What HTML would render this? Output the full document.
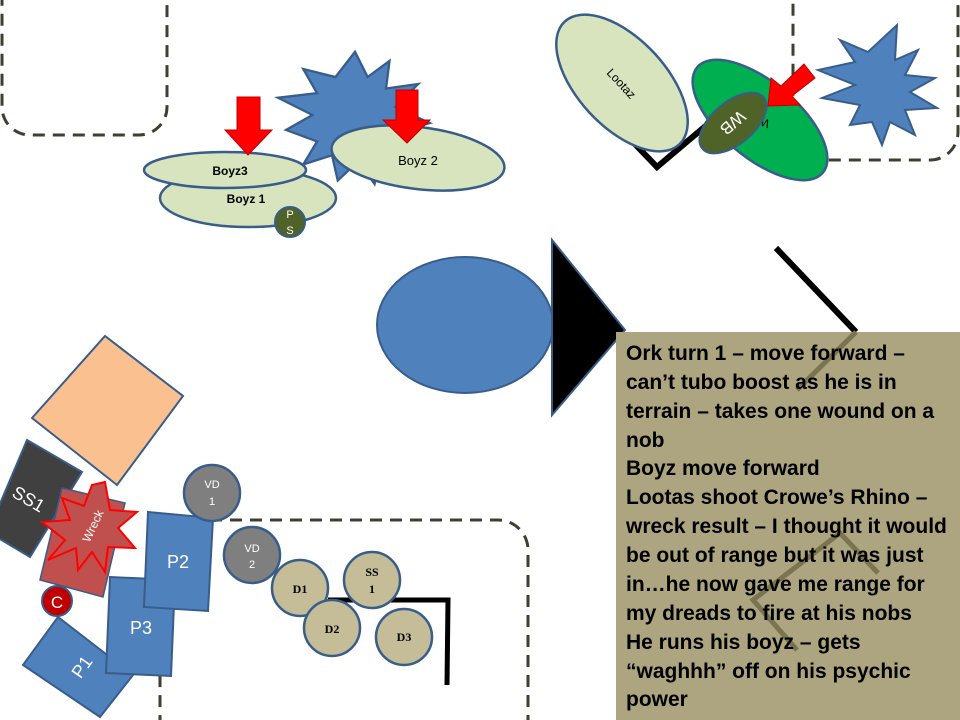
<!DOCTYPE html>
<html><head><meta charset="utf-8"><style>
html,body{margin:0;padding:0;background:#fff;}
svg{display:block;}
.t{font-family:"Liberation Sans",sans-serif;}
</style></head><body>
<svg width="960" height="720" viewBox="0 0 960 720" xmlns="http://www.w3.org/2000/svg">
<g fill="none" stroke="#3f3f2f" stroke-width="3" stroke-dasharray="12,8">
<rect x="2" y="-30" width="165" height="165" rx="28"/>
<rect x="793" y="-30" width="165" height="190" rx="28"/>
<rect x="160" y="520" width="368" height="230" rx="30"/>
</g>
<polygon fill="#4f81bd" stroke="#385d8a" stroke-width="2" transform="translate(355,115) scale(1.15) translate(-355,-115)" points="
355,60 366,82 385,68 382,92 410,88 390,108 420,122 390,130 405,152 378,150 372,175 358,155 340,172 335,150 310,158 322,138 295,128 318,115 288,100 322,96 310,75 338,82"/>
<polygon fill="#4f81bd" stroke="#385d8a" stroke-width="2" points="
897,25 895,60 918,50 905,75 935,78 910,92 937,108 905,110 915,135 890,122 882,145 872,122 850,125 860,105 822,98 855,85 818,70 855,62 840,40 868,52"/>
<ellipse cx="248" cy="198" rx="88" ry="29" fill="#d7e4bd" stroke="#385d8a" stroke-width="2.5"/>
<ellipse cx="225" cy="170" rx="81" ry="18" fill="#d7e4bd" stroke="#385d8a" stroke-width="2.5"/>
<circle cx="290" cy="222" r="15" fill="#4f6228" stroke="#385d8a" stroke-width="2"/>
<text x="290" y="218" class="t" font-size="11" fill="#fff" text-anchor="middle">P</text>
<text x="290" y="234" class="t" font-size="11" fill="#fff" text-anchor="middle">S</text>
<text x="230" y="175" class="t" font-size="12" font-weight="bold" text-anchor="middle">Boyz3</text>
<text x="246" y="203" class="t" font-size="12" font-weight="bold" text-anchor="middle">Boyz 1</text>
<ellipse cx="418" cy="158" rx="87" ry="31" transform="rotate(7 418 158)" fill="#d7e4bd" stroke="#385d8a" stroke-width="2.5"/>
<text x="418" y="165" class="t" font-size="13" text-anchor="middle">Boyz 2</text>
<polygon fill="#ff0000" stroke="#c00000" points="237,97 260,97 260,130 272,130 248,155 225,130 237,130"/>
<polygon fill="#ff0000" stroke="#c00000" points="396,90 418,90 418,120 430,120 407,143 383,120 396,120"/>
<polyline points="575,82 657,167 715,118" fill="none" stroke="#000" stroke-width="6"/>
<ellipse cx="622" cy="83" rx="84" ry="44" transform="rotate(47 622 83)" fill="#d7e4bd" stroke="#385d8a" stroke-width="2.5"/>
<text x="622" y="88" class="t" font-size="12" text-anchor="middle" transform="rotate(47 622 83)">Lootaz</text>
<ellipse cx="760" cy="120" rx="82" ry="38" transform="rotate(40 760 120)" fill="#00b050" stroke="#385d8a" stroke-width="2.5"/>
<text x="760" y="125" class="t" font-size="12" text-anchor="middle" transform="rotate(200 760 121)">WB</text>
<ellipse cx="733" cy="123" rx="40" ry="21" transform="rotate(-40 733 123)" fill="#4f6228" stroke="#385d8a" stroke-width="2"/>
<text x="733" y="129" class="t" font-size="17" fill="#fff" text-anchor="middle" transform="rotate(140 733 123)">WB</text>
<polygon fill="#ff0000" stroke="#c00000" points="804,64 815,78 792,96 800,105 768,106 771,78 781,86"/>
<ellipse cx="465" cy="325" rx="88" ry="68" fill="#4f81bd" stroke="#385d8a" stroke-width="2"/>
<polygon points="552,240 552,415 625,330" fill="#000" stroke="#385d8a" stroke-width="2"/>
<line x1="776" y1="248" x2="856" y2="332" stroke="#000" stroke-width="6"/>
<rect x="616" y="332" width="344" height="388" fill="#aca57f"/>
<g stroke="#7b7450" stroke-width="5" fill="none">
<line x1="856" y1="332" x2="797" y2="390"/>
<polyline points="878,573 840,533 753,600 797,650"/>
</g>
<g class="t" font-size="21" font-weight="bold" fill="#000">
<text x="626" y="360">Ork turn 1 – move forward –</text>
<text x="626" y="389">can’t tubo boost as he is in</text>
<text x="626" y="418">terrain – takes one wound on a</text>
<text x="626" y="447">nob</text>
<text x="626" y="475">Boyz move forward</text>
<text x="626" y="504">Lootas shoot Crowe’s Rhino –</text>
<text x="626" y="533">wreck result – I thought it would</text>
<text x="626" y="562">be out of range but it was just</text>
<text x="626" y="591">in…he now gave me range for</text>
<text x="626" y="620">my dreads to fire at his nobs</text>
<text x="626" y="649">He runs his boyz – gets</text>
<text x="626" y="678">“waghhh” off on his psychic</text>
<text x="626" y="706">power</text>
</g>
<polygon points="32,418 105,336 183,396 117,485" fill="#fac090" stroke="#385d8a" stroke-width="2"/>
<polygon points="27,440 82,472 30,557 -12,532" fill="#404040" stroke="#385d8a" stroke-width="2"/>
<text x="28" y="505" class="t" font-size="18" fill="#fff" text-anchor="middle" transform="rotate(30 28 500)">SS1</text>
<polygon points="62,488 125,503 103,597 40,580" fill="#c0504d" stroke="#385d8a" stroke-width="1.5"/>
<polygon fill="#c0504d" stroke="#ff0000" stroke-width="2" points="
105,482 110,510 137,512 118,528 135,548 108,547 105,572 92,552 78,570 76,548 48,560 65,540 42,522 70,520 62,498 84,506 92,485"/>
<text x="93" y="530" class="t" font-size="12" fill="#fff" text-anchor="middle" transform="rotate(-65 93 526)">Wreck</text>
<circle cx="57" cy="601" r="15" fill="#c00000" stroke="#385d8a" stroke-width="2"/>
<text x="57" y="608" class="t" font-size="17" fill="#fff" text-anchor="middle">C</text>
<polygon points="58,617 133,675 100,717 23,665" fill="#4f81bd" stroke="#385d8a" stroke-width="2"/>
<text x="82" y="673" class="t" font-size="18" fill="#fff" text-anchor="middle" transform="rotate(-55 82 667)">P1</text>
<polygon points="110,577 175,580 171,676 106,673" fill="#4f81bd" stroke="#385d8a" stroke-width="2"/>
<text x="141" y="634" class="t" font-size="18" fill="#fff" text-anchor="middle">P3</text>
<polygon points="148,512 213,518 208,611 144,607" fill="#4f81bd" stroke="#385d8a" stroke-width="2"/>
<text x="178" y="568" class="t" font-size="18" fill="#fff" text-anchor="middle">P2</text>
<g stroke="#385d8a" stroke-width="2.5">
<circle cx="212" cy="493" r="28" fill="#7f7f7f"/>
<circle cx="252" cy="555" r="28" fill="#7f7f7f"/>
</g>
<polyline points="328,600 448,600 447,685" fill="none" stroke="#000" stroke-width="5"/>
<g stroke="#385d8a" stroke-width="2.5" fill="#c4bd97">
<circle cx="300" cy="588" r="28"/>
<circle cx="332" cy="628" r="28"/>
<circle cx="372" cy="580" r="28"/>
<circle cx="404" cy="637" r="28"/>
</g>
<g class="t" font-size="11" fill="#fff" text-anchor="middle">
<text x="212" y="488">VD</text><text x="212" y="505">1</text>
<text x="252" y="552">VD</text><text x="252" y="568">2</text>
</g>
<g font-family="'Liberation Serif',serif" font-size="12" font-weight="bold" text-anchor="middle">
<text x="300" y="593">D1</text>
<text x="332" y="633">D2</text>
<text x="372" y="576">SS</text><text x="372" y="593">1</text>
<text x="404" y="641">D3</text>
</g>
</svg>
</body></html>
